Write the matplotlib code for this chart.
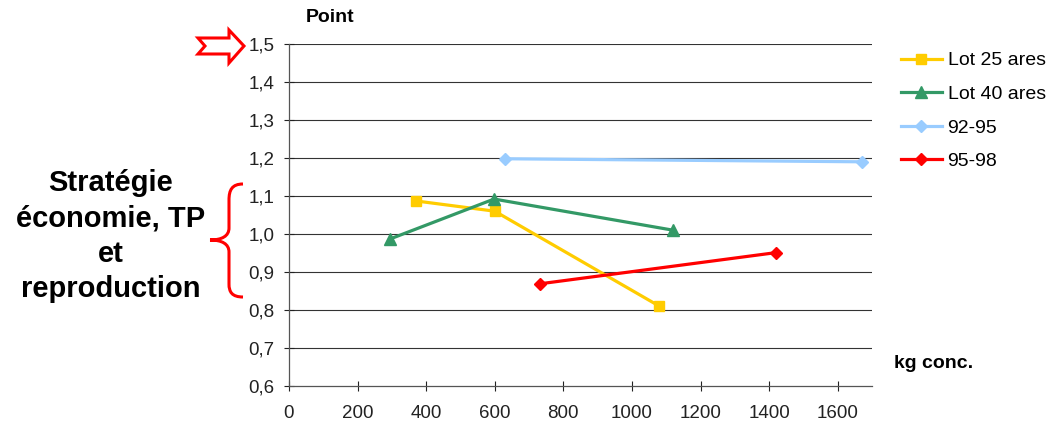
import matplotlib
matplotlib.use("Agg")
import matplotlib.pyplot as plt
from matplotlib.path import Path
from matplotlib.patches import PathPatch, Polygon

plt.rcParams['font.family'] = ['Liberation Sans', 'DejaVu Sans']

lot25_x = [370, 600, 1080]
lot25_y = [1.087, 1.06, 0.81]
lot40_x = [295, 598, 1120]
lot40_y = [0.987, 1.092, 1.01]
p9295_x = [630, 1670]
p9295_y = [1.198, 1.19]
p9598_x = [732, 1420]
p9598_y = [0.869, 0.951]

series_names = ["Lot 25 ares", "Lot 40 ares", "92-95", "95-98"]
x_ticks = [0, 200, 400, 600, 800, 1000, 1200, 1400, 1600]
y_ticks = [0.6, 0.7, 0.8, 0.9, 1.0, 1.1, 1.2, 1.3, 1.4, 1.5]

W, H = 1055, 432
fig = plt.figure(figsize=(W / 100, H / 100), dpi=100)
ax = fig.add_axes([289 / W, 1 - 386 / H, (872 - 289) / W, (386 - 44) / H])

ax.plot(lot25_x, lot25_y, color='#FFCC00', lw=2.3, marker='s', ms=7, label=series_names[0])
ax.plot(lot40_x, lot40_y, color='#339966', lw=2.3, marker='^', ms=8, label=series_names[1])
ax.plot(p9295_x, p9295_y, color='#99CCFF', lw=2.3, marker='D', ms=6, label=series_names[2])
ax.plot(p9598_x, p9598_y, color='#FF0000', lw=2.3, marker='D', ms=6, label=series_names[3])

ax.set_xlim(0, 1700)
ax.set_ylim(0.6, 1.5)
ax.set_xticks(x_ticks)
ax.set_xticklabels([str(v) for v in x_ticks])
ax.set_yticks(y_ticks)
ax.set_yticklabels([f"{v:.1f}".replace('.', ',') for v in y_ticks])
ax.tick_params(direction='inout', length=7, width=0.8, labelsize=13.5, colors='#222222')
ax.tick_params(axis='y', pad=7)
ax.tick_params(axis='x', pad=10.5)
for s in ['top', 'right']:
    ax.spines[s].set_visible(False)
for s in ['left', 'bottom']:
    ax.spines[s].set_color('#555555')
    ax.spines[s].set_linewidth(0.9)
for v in y_ticks[1:]:
    ax.axhline(v, color='#333333', lw=0.8, zorder=0)

fig.text(330 / W, 1 - 17 / H, "Point", fontsize=14, fontweight='bold', ha='center', va='center')
fig.text(934 / W, 1 - 364 / H, "kg conc.", fontsize=14, fontweight='bold', ha='center', va='center')

leg = fig.legend(loc='upper left', bbox_to_anchor=(895 / W, 1 - 46 / H), frameon=False,
                 fontsize=14, handlelength=2.1, labelspacing=0.82, handletextpad=0.3,
                 borderaxespad=0, borderpad=0.3)

fig.text(111 / W, 1 - 236 / H, "Stratégie\néconomie, TP\net\nreproduction", fontsize=21,
         fontweight='bold', ha='center', va='center', linespacing=1.33)

def fp(x, y):
    return (x / W, 1 - y / H)

# hollow arrow
arrow_pts = [fp(198, 38), fp(229, 38), fp(229, 30), fp(244, 46), fp(229, 63),
             fp(229, 54), fp(198, 54), fp(205, 46)]
fig.patches.append(Polygon(arrow_pts, closed=True, fill=False, edgecolor='#FF0000', lw=2.2,
                           transform=fig.transFigure, figure=fig))

# brace
verts = [fp(243, 184), fp(232, 184), fp(229, 190), fp(229, 200),
         fp(229, 228),
         fp(229, 236), fp(222, 240), fp(210, 240),
         fp(222, 240), fp(229, 244), fp(229, 252),
         fp(229, 284),
         fp(229, 292), fp(232, 297), fp(243, 297)]
codes = [Path.MOVETO, Path.CURVE4, Path.CURVE4, Path.CURVE4,
         Path.LINETO,
         Path.CURVE4, Path.CURVE4, Path.CURVE4,
         Path.CURVE4, Path.CURVE4, Path.CURVE4,
         Path.LINETO,
         Path.CURVE4, Path.CURVE4, Path.CURVE4]
fig.patches.append(PathPatch(Path(verts, codes), fill=False, edgecolor='#FF0000', lw=2.2,
                             transform=fig.transFigure, figure=fig))

fig.savefig("out.png", dpi=100)
